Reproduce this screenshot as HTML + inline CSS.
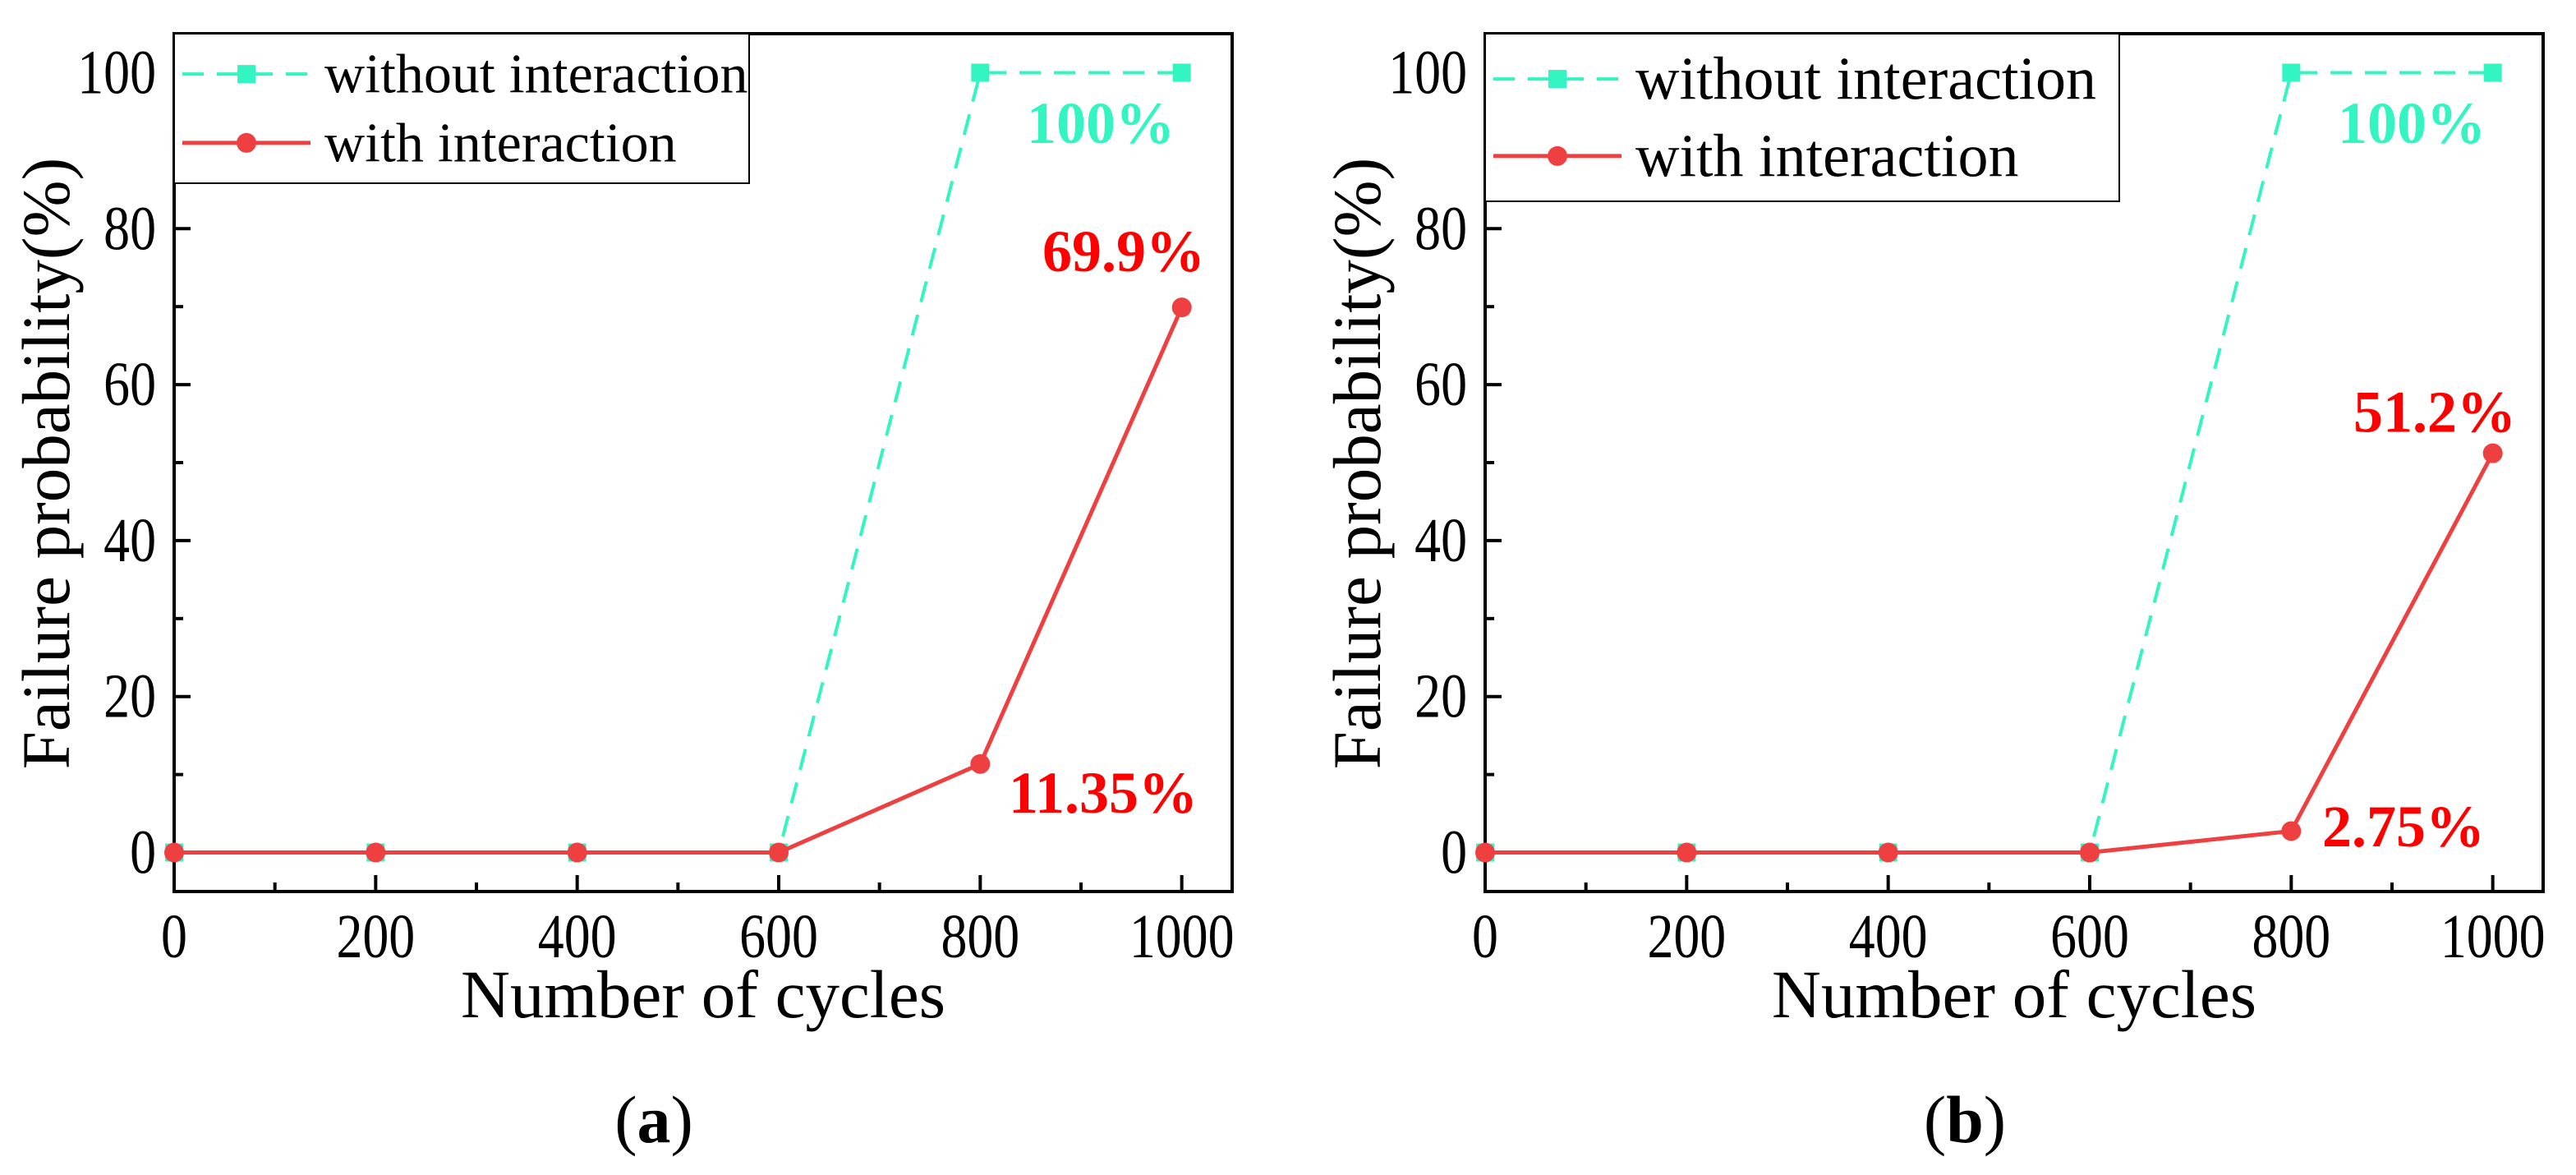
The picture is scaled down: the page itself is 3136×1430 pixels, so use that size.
<!DOCTYPE html>
<html><head><meta charset="utf-8"><style>html,body{margin:0;padding:0;background:#fff}svg{display:block}
svg text{font-family:"Liberation Serif","DejaVu Serif",serif;}</style></head>
<body>
<svg id="chart" width="3136" height="1430" viewBox="0 0 3136 1430" xmlns="http://www.w3.org/2000/svg"></svg>
<script>
const categories = [0, 200, 400, 600, 800, 1000];
const withoutA = [0, 0, 0, 0, 100, 100];
const withA = [0, 0, 0, 0, 11.35, 69.9];
const withoutB = [0, 0, 0, 0, 100, 100];
const withB = [0, 0, 0, 0, 2.75, 51.2];
const yTicks = [0, 20, 40, 60, 80, 100];
const xTicks = [0, 200, 400, 600, 800, 1000];
const labelsA = ["100%", "69.9%", "11.35%"];
const labelsB = ["100%", "51.2%", "2.75%"];

const NS = "http://www.w3.org/2000/svg";
const svg = document.getElementById('chart');
const GREEN = "#33F5C2", RED = "#EE4040", TXTRED = "#FF0000";

function mk(tag, attrs, parent) {
  const e = document.createElementNS(NS, tag);
  for (const k in attrs) e.setAttribute(k, attrs[k]);
  parent.appendChild(e);
  return e;
}
function txt(parent, x, y, s, size, opts) {
  opts = opts || {};
  const e = mk('text', {x: 0, y: 0, 'font-size': size, fill: opts.fill || '#000', 'text-anchor': opts.anchor || 'start',
    'font-weight': opts.bold ? 'bold' : 'normal',
    transform: `translate(${x},${y}) ${opts.rot ? 'rotate(-90)' : ''} scale(${opts.sx || 1},1)`}, parent);
  e.textContent = s;
  return e;
}

function panel(dx, withoutV, withV, labels, legendSize, letter, annPos, id) {
  const g = mk('g', {}, svg);
  
  
  const L = 212 + dx, R = 1500 + dx, T = 41, B = 1085;
  const xs = v => L + v / 1050 * (R - L);
  const ys = v => B - (v + 5) / 110 * (B - T);

  const ax = mk('g', {stroke: '#000', 'stroke-width': 4}, g);
  
  
  for (let v = 0; v <= 1000; v += 100) {
    const len = v % 200 === 0 ? 20 : 11;
    mk('line', {x1: xs(v), x2: xs(v), y1: B, y2: B - len}, ax);
  }
  for (let v = 0; v <= 100; v += 10) {
    const len = v % 20 === 0 ? 20 : 11;
    mk('line', {x1: L, x2: L + len, y1: ys(v), y2: ys(v)}, ax);
  }
  mk('rect', {x: L, y: T, width: R - L, height: B - T, fill: 'none'}, ax);

  xTicks.forEach(v => {
    const t = txt(g, xs(v), 1165, String(v), 76, {anchor: 'middle', sx: 0.84});
    
    
  });
  yTicks.forEach(v => {
    const t = txt(g, L - 22, ys(v) + 25, String(v), 76, {anchor: 'end', sx: 0.84});
    
    
  });
  const xt = txt(g, (L + R) / 2, 1238, 'Number of cycles', 83, {anchor: 'middle'});
  
  
  const yt = txt(g, 84 + dx, 564, 'Failure probability(%)', 83, {anchor: 'middle', rot: true});
  
  
  const lt = txt(g, (L + R) / 2 - 60, 1390, '', 82, {anchor: 'middle'});
  const t1 = mk('tspan', {}, lt); t1.textContent = '(';
  const t2 = mk('tspan', {'font-weight': 'bold'}, lt); t2.textContent = letter;
  const t3 = mk('tspan', {}, lt); t3.textContent = ')';
  
  

  const pts = arr => arr.map((v, i) => xs(categories[i]) + ',' + ys(v)).join(' ');
  const l1 = mk('polyline', {points: pts(withoutV), fill: 'none', stroke: GREEN, 'stroke-width': 4, 'stroke-dasharray': '26,16'}, g);
  
  
  withoutV.forEach((v, i) => {
    const m = mk('rect', {x: xs(categories[i]) - 11, y: ys(v) - 11, width: 22, height: 22, fill: GREEN}, g);
    
    
  });
  const l2 = mk('polyline', {points: pts(withV), fill: 'none', stroke: RED, 'stroke-width': 5}, g);
  
  
  withV.forEach((v, i) => {
    const m = mk('ellipse', {cx: xs(categories[i]), cy: ys(v), rx: 12, ry: 12, fill: RED}, g);
    
    
  });

  const a1 = txt(g, 1340 + dx, 174, labels[0], 72, {anchor: 'middle', bold: true, fill: GREEN});
  
  
  const a2 = txt(g, annPos[0] + dx, ys(withV[5]) - annPos[3], labels[1], 72, {anchor: 'middle', bold: true, fill: TXTRED});
  
  
  const a3 = txt(g, annPos[1] + dx, annPos[2], labels[2], 72, {anchor: 'middle', bold: true, fill: TXTRED});
  
  

  const lg = mk('g', {}, g);
  
  
  const lw = legendSize === 68 ? 700 : 772, lh = legendSize === 68 ? 182 : 204;
  mk('rect', {x: L, y: T, width: lw, height: lh, fill: '#fff', stroke: '#000', 'stroke-width': 2}, lg);
  const r1 = T + lh * 0.27, r2 = T + lh * 0.73;
  const e1 = mk('g', {}, lg);
  
  
  mk('line', {x1: L + 10, x2: L + 166, y1: r1, y2: r1, stroke: GREEN, 'stroke-width': 4, 'stroke-dasharray': '26,16'}, e1);
  mk('rect', {x: L + 77, y: r1 - 11, width: 22, height: 22, fill: GREEN}, e1);
  txt(e1, L + 183, r1 + legendSize * 0.33, 'without interaction', legendSize);
  const e2 = mk('g', {}, lg);
  
  
  mk('line', {x1: L + 10, x2: L + 166, y1: r2, y2: r2, stroke: RED, 'stroke-width': 5}, e2);
  mk('circle', {cx: L + 88, cy: r2, r: 12, fill: RED}, e2);
  txt(e2, L + 183, r2 + legendSize * 0.33, 'with interaction', legendSize);
}

panel(0, withoutA, withA, labelsA, 68, 'a', [1368, 1343, 989, 44], 'a');
panel(1596, withoutB, withB, labelsB, 74, 'b', [1368, 1330, 1030, 26], 'b');
</script>
</body></html>
